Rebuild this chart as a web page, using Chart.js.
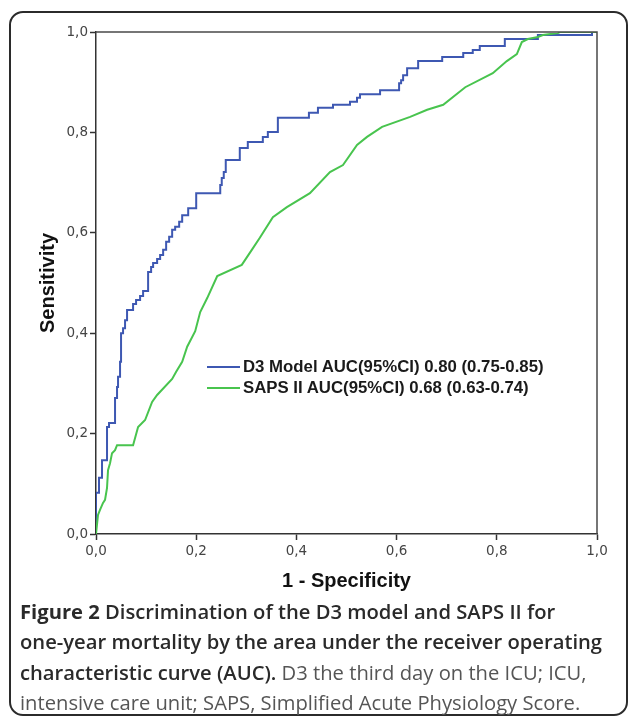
<!DOCTYPE html>
<html>
<head>
<meta charset="utf-8">
<script src="https://cdn.jsdelivr.net/npm/chart.js@4.4.1/dist/chart.umd.min.js"></script>
<style>
  body { margin: 0; background: #fff; width: 629px; height: 716px; overflow: hidden; position: relative; }
  #frame { position: absolute; left: 9px; top: 11px; width: 615px; height: 701px; border: 2px solid #2b2b2b; border-radius: 14px; }
  #roc { position: absolute; left: 0; top: 0; }
  #legend { position: absolute; left: 207px; top: 356px; font: bold 16.8px "Liberation Sans", Arial, sans-serif; color: #1a1a1a; line-height: 21px; }
  #legend div { white-space: nowrap; }
  #legend span { display: inline-block; width: 33px; height: 2px; vertical-align: middle; margin-right: 3px; position: relative; top: -1px; }
  #caption { position: absolute; left: 20px; top: 596px; width: 600px; font: 20.2px "Open Sans", sans-serif; line-height: 30.3px; color: #555; white-space: nowrap; }
  #caption b { color: #2a2a2a; font-weight: 600; }
</style>
</head>
<body>
<div id="frame"></div>
<canvas id="roc" width="629" height="600"></canvas>
<div id="legend"></div>
<div id="caption">
  <b style="font-weight:700">Figure 2</b> <b>Discrimination of the D3 model and SAPS II for</b><br>
  <b>one-year mortality by the area under the receiver operating</b><br>
  <b>characteristic curve (AUC).</b> D3 the third day on the ICU; ICU,<br>
  intensive care unit; SAPS, Simplified Acute Physiology Score.
</div>
<script>
// values
var seriesNames = ['D3 Model AUC(95%CI) 0.80 (0.75-0.85)', 'SAPS II AUC(95%CI) 0.68 (0.63-0.74)'];
var seriesColors = ['rgb(62, 88, 178)', 'rgb(72, 196, 78)'];
var xTickLabels = ['0,0', '0,2', '0,4', '0,6', '0,8', '1,0'];
var yTickLabels = ['0,0', '0,2', '0,4', '0,6', '0,8', '1,0'];

// D3 model ROC (step curve, corner points)
var d3X = [0, 0, 0.006, 0.006, 0.012, 0.012, 0.022, 0.022, 0.026, 0.026, 0.038, 0.038, 0.042, 0.042, 0.044, 0.044,
  0.048, 0.048, 0.050, 0.050, 0.054, 0.054, 0.058, 0.058, 0.062, 0.062, 0.074, 0.074, 0.080, 0.080, 0.088, 0.088,
  0.094, 0.094, 0.104, 0.104, 0.110, 0.110, 0.114, 0.114, 0.122, 0.122, 0.128, 0.128, 0.134, 0.134, 0.140, 0.140,
  0.146, 0.146, 0.152, 0.152, 0.158, 0.158, 0.166, 0.166, 0.172, 0.172, 0.184, 0.184, 0.200, 0.200, 0.248, 0.248,
  0.251, 0.251, 0.255, 0.255, 0.259, 0.259, 0.287, 0.287, 0.303, 0.303, 0.333, 0.333, 0.343, 0.343, 0.363, 0.363,
  0.425, 0.425, 0.443, 0.443, 0.473, 0.473, 0.507, 0.507, 0.521, 0.521, 0.527, 0.527, 0.567, 0.567, 0.605, 0.605,
  0.609, 0.609, 0.613, 0.613, 0.621, 0.621, 0.643, 0.643, 0.691, 0.691, 0.733, 0.733, 0.752, 0.752, 0.766, 0.766,
  0.816, 0.816, 0.882, 0.882, 0.990, 0.990, 1];
var d3Y = [0, 0.082, 0.082, 0.112, 0.112, 0.147, 0.147, 0.213, 0.213, 0.221, 0.221, 0.271, 0.271, 0.293, 0.293, 0.313,
  0.313, 0.343, 0.343, 0.400, 0.400, 0.410, 0.410, 0.426, 0.426, 0.446, 0.446, 0.458, 0.458, 0.466, 0.466, 0.474,
  0.474, 0.484, 0.484, 0.522, 0.522, 0.532, 0.532, 0.540, 0.540, 0.548, 0.548, 0.556, 0.556, 0.566, 0.566, 0.582,
  0.582, 0.592, 0.592, 0.606, 0.606, 0.612, 0.612, 0.622, 0.622, 0.635, 0.635, 0.649, 0.649, 0.679, 0.679, 0.695,
  0.695, 0.709, 0.709, 0.721, 0.721, 0.745, 0.745, 0.769, 0.769, 0.781, 0.781, 0.791, 0.791, 0.801, 0.801, 0.829,
  0.829, 0.839, 0.839, 0.849, 0.849, 0.855, 0.855, 0.861, 0.861, 0.869, 0.869, 0.876, 0.876, 0.884, 0.884, 0.898,
  0.898, 0.904, 0.904, 0.914, 0.914, 0.928, 0.928, 0.942, 0.942, 0.950, 0.950, 0.958, 0.958, 0.964, 0.964, 0.972,
  0.972, 0.986, 0.986, 0.994, 0.994, 1, 1];

// SAPS II ROC
var sapsX = [0, 0.004, 0.008, 0.014, 0.018, 0.022, 0.024, 0.028, 0.032, 0.038, 0.042, 0.074, 0.084, 0.098, 0.112,
  0.122, 0.152, 0.160, 0.172, 0.182, 0.198, 0.208, 0.222, 0.242, 0.291, 0.311, 0.327, 0.353, 0.381, 0.427, 0.467,
  0.493, 0.521, 0.541, 0.571, 0.627, 0.661, 0.693, 0.737, 0.792, 0.820, 0.840, 0.850, 0.862, 0.882, 0.892, 0.922,
  0.926, 1];
var sapsY = [0, 0.038, 0.048, 0.062, 0.068, 0.092, 0.127, 0.141, 0.161, 0.167, 0.177, 0.177, 0.213, 0.227, 0.263,
  0.277, 0.309, 0.323, 0.343, 0.373, 0.404, 0.442, 0.470, 0.514, 0.536, 0.566, 0.590, 0.631, 0.651, 0.679, 0.721,
  0.735, 0.775, 0.791, 0.811, 0.831, 0.845, 0.855, 0.890, 0.918, 0.942, 0.956, 0.980, 0.986, 0.990, 0.994, 0.998,
  1, 1];

function toPoints(xs, ys) {
  return xs.map(function(x, i) { return {x: x, y: ys[i]}; });
}

// top and right edges of the plot box
var boxPlugin = {
  id: 'plotBox',
  afterDatasetsDraw: function(chart) {
    var a = chart.chartArea, ctx = chart.ctx;
    ctx.save();
    ctx.strokeStyle = '#4a4a4a';
    ctx.lineWidth = 1.5;
    ctx.beginPath();
    ctx.moveTo(a.left, a.top);
    ctx.lineTo(a.right, a.top);
    ctx.lineTo(a.right, a.bottom);
    ctx.stroke();
    ctx.restore();
  }
};

var tickFont = {family: 'DejaVu Sans', size: 13.5};
var titleFont = {family: 'Liberation Sans', size: 20, weight: 'bold'};

new Chart(document.getElementById('roc').getContext('2d'), {
  type: 'scatter',
  data: {
    datasets: [{
      label: seriesNames[0],
      data: toPoints(d3X, d3Y),
      borderColor: seriesColors[0],
      borderWidth: 2,
      showLine: true,
      pointRadius: 0,
      order: 2
    }, {
      label: seriesNames[1],
      data: toPoints(sapsX, sapsY),
      borderColor: seriesColors[1],
      borderWidth: 2,
      showLine: true,
      pointRadius: 0,
      order: 1
    }]
  },
  options: {
    responsive: false,
    animation: false,
    layout: {padding: {left: 32, top: 32, right: 32, bottom: 3}},
    plugins: {legend: {display: false}, tooltip: {enabled: false}},
    scales: {
      x: {
        type: 'linear', min: 0, max: 1,
        afterFit: function(s) { s.height = 63; },
        grid: {drawOnChartArea: false, color: '#333', tickLength: 6, tickWidth: 1.5},
        border: {color: '#333', width: 1.5},
        ticks: {stepSize: 0.2, font: tickFont, color: '#444', padding: 3,
          callback: function(v, i) { return xTickLabels[i]; }},
        title: {display: true, text: '1 - Specificity', font: titleFont, color: '#111', padding: {top: 8}}
      },
      y: {
        type: 'linear', min: 0, max: 1,
        afterFit: function(s) { s.width = 64; },
        grid: {drawOnChartArea: false, color: '#333', tickLength: 6, tickWidth: 1.5},
        border: {color: '#333', width: 1.5},
        ticks: {stepSize: 0.2, font: tickFont, color: '#444', padding: 2,
          callback: function(v, i) { return yTickLabels[i]; }},
        title: {display: true, text: 'Sensitivity', font: titleFont, color: '#111', padding: {bottom: 10}}
      }
    }
  },
  plugins: [boxPlugin]
});

// legend drawn inside the plot, as in the figure
var legend = document.getElementById('legend');
seriesNames.forEach(function(name, i) {
  var row = document.createElement('div');
  var swatch = document.createElement('span');
  swatch.style.background = seriesColors[i];
  row.appendChild(swatch);
  row.appendChild(document.createTextNode(name));
  legend.appendChild(row);
});
</script>
</body>
</html>
